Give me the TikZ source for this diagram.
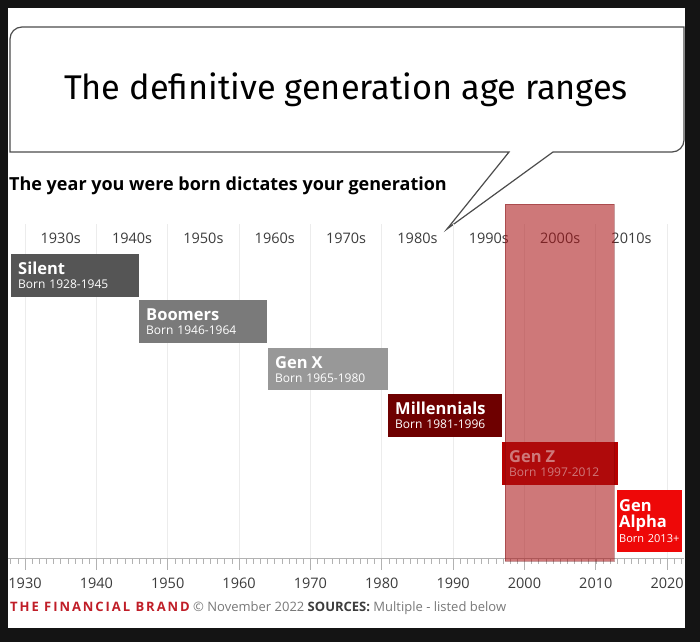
\documentclass[tikz,border=0pt]{standalone}
\usepackage{fontspec}
\setmainfont{Open Sans}
\newfontfamily\titlefont{Fira Sans}
\usepackage{tikz}
\usetikzlibrary{positioning}

\definecolor{framegray}{RGB}{20,20,20}
\definecolor{silentgray}{RGB}{85,85,85}
\definecolor{boomergray}{RGB}{122,122,122}
\definecolor{genxgray}{RGB}{152,152,152}
\definecolor{millred}{RGB}{110,0,0}
\definecolor{genzred}{RGB}{182,0,0}
\definecolor{alphared}{RGB}{238,8,8}
\definecolor{hlred}{RGB}{170,18,21}
\definecolor{brandred}{RGB}{192,30,40}
\definecolor{gridgray}{RGB}{236,236,236}
\definecolor{textgray}{RGB}{60,60,60}
\definecolor{footgray}{RGB}{120,120,120}
\newcommand{\genname}{\bfseries\fontsize{16.5}{17}\selectfont}

\begin{document}
\begin{tikzpicture}[x=1pt,y=-1pt,
  genbar/.style={anchor=north west, inner xsep=7pt, inner ysep=0pt,
    minimum height=43pt, align=left, text=white,
    font=\fontsize{12}{14}\selectfont},
  decade/.style={font=\fontsize{14.5}{16}\selectfont, text=textgray},
  yearlab/.style={font=\fontsize{14.5}{16}\selectfont, text=textgray},
  gridline/.style={draw=gridgray, line width=0.8pt},
  axisline/.style={draw=black!30, line width=0.8pt}]
\useasboundingbox (0,0) rectangle (700,642);
\fill[framegray] (0,0) rectangle (700,642);
\fill[white] (8,8) rectangle (685,628);

% speech bubble
\draw[draw=black!70, line width=1.2pt, fill=white] (509,152) -- (10,152)
  [rounded corners=12pt] -- (10,27) [sharp corners] -- (684,27)
  [rounded corners=12pt] -- (684,152) [sharp corners] -- (553,152)
  -- (447,229) -- cycle;
\node[font=\titlefont\fontsize{34.3}{36}\selectfont] (title) at (346,90)
  {The definitive generation age ranges};
\node[anchor=west, inner sep=0pt, font=\bfseries\fontsize{18}{20}\selectfont]
  (subtitle) at (9,186) {The year you were born dictates your generation};

% grid and decades
\foreach \d in {0,...,9}
  \draw[gridline] ({25+\d*71.35},224) -- ({25+\d*71.35},558);
\foreach \d/\lab in {0/1930s,1/1940s,2/1950s,3/1960s,4/1970s,5/1980s,6/1990s,7/2000s,8/2010s}
  \node[decade] (dec\d) at ({60.7+\d*71.35},238) {\lab};

% generations
\node[genbar, fill=silentgray, text width=114pt] (silent) at (11,254)
  {{\genname Silent}\\Born 1928-1945};
\node[genbar, fill=boomergray, text width=114pt] (boomers) at (139,300)
  {{\genname Boomers}\\Born 1946-1964};
\node[genbar, fill=genxgray, text width=106pt, minimum height=42pt] (genx) at (268,348)
  {{\genname Gen X}\\Born 1965-1980};
\node[genbar, fill=millred, text width=100pt] (millennials) at (388,394)
  {{\genname Millennials}\\Born 1981-1996};
\node[genbar, fill=genzred, text width=102pt] (genz) at (502,442)
  {{\genname Gen Z}\\Born 1997-2012};
\node[genbar, fill=alphared, inner xsep=2pt, text width=61pt, minimum height=62pt,
  font=\fontsize{11}{15.5}\selectfont] (alpha) at (617,490)
  {{\genname Gen}\\{\genname Alpha}\\Born 2013+};

% axis
\draw[axisline] (8,558) -- (684,558);
\foreach \yr in {1928,...,2022}
  \draw[axisline, line width=0.6pt] ({25+(\yr-1930)*7.135},558) -- ++(0,6);
\foreach \d in {0,...,9}
  \draw[axisline] ({25+\d*71.35},558) -- ++(0,12);
\foreach \d/\lab in {0/1930,1/1940,2/1950,3/1960,4/1970,5/1980,6/1990,7/2000,8/2010,9/2020}
  \node[yearlab] (yr\d) at ({25+\d*71.35},583) {\lab};

% highlight of the 2000s
\fill[hlred, opacity=0.57] (505,204) rectangle (614,561);
\draw[hlred!70!black, opacity=0.4, line width=0.8pt] (505,204) rectangle (614,561);

% footer
\node[anchor=west, inner sep=0pt, font=\fontsize{13}{15}\selectfont, text=footgray]
  (footer) at (10,608)
  {{\color{brandred}\bfseries\addfontfeature{LetterSpace=15}THE FINANCIAL BRAND}
   \textcopyright{} November 2022 {\color{textgray}\bfseries SOURCES:} Multiple - listed below};
\end{tikzpicture}
\end{document}
